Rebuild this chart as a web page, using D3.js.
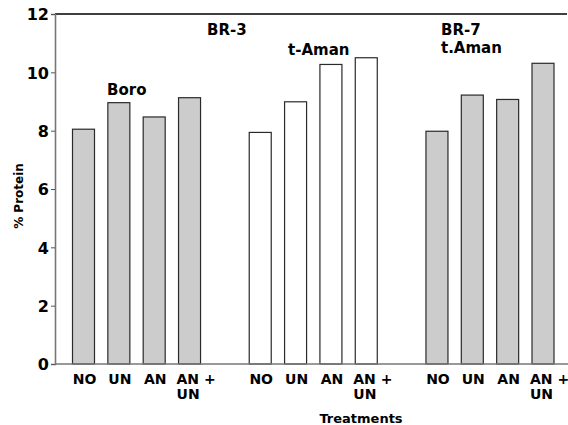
<!DOCTYPE html>
<html>
<head>
<meta charset="utf-8">
<script src="https://cdn.jsdelivr.net/npm/d3@7"></script>
<style>
  body { margin: 0; background: #fff; }
  text { font-family: "DejaVu Sans", sans-serif; font-weight: bold; fill: #000; }
</style>
</head>
<body>
<div id="chart"></div>
<script>
// data
var groups = ["BR-3 Boro", "BR-3 t-Aman", "BR-7 t.Aman"];
var treatments = ["NO", "UN", "AN", "AN+UN"];
var valuesBoro = [8.05, 8.96, 8.47, 9.13];
var valuesBR3Aman = [7.94, 8.99, 10.27, 10.5];
var valuesBR7Aman = [7.98, 9.22, 9.07, 10.31];
var yTicks = [0, 2, 4, 6, 8, 10, 12];

var allValues = [valuesBoro, valuesBR3Aman, valuesBR7Aman];
var fills = ["#cccccc", "#ffffff", "#cccccc"];

var width = 568, height = 425;
var margin = {top: 14, right: 1, bottom: 61, left: 55};

var svg = d3.select("#chart").append("svg")
  .attr("width", width).attr("height", height);

// slots: 4 bars per group with one empty slot between groups
var slots = [];
groups.forEach(function (g, gi) {
  treatments.forEach(function (t) { slots.push(g + "|" + t); });
  if (gi < groups.length - 1) slots.push("gap" + gi);
});

var x = d3.scalePoint().domain(slots).range([83.5, 543]);
var barW = 22;

var y = d3.scaleLinear().domain([0, 12]).range([height - margin.bottom, margin.top]);

// bars
var bars = [];
groups.forEach(function (g, gi) {
  treatments.forEach(function (t, ti) {
    bars.push({key: g + "|" + t, label: t, value: allValues[gi][ti], fill: fills[gi]});
  });
});

svg.append("g").selectAll("rect").data(bars).enter().append("rect")
  .attr("x", function (d) { return x(d.key) - barW / 2; })
  .attr("y", function (d) { return y(d.value); })
  .attr("width", barW)
  .attr("height", function (d) { return y(0) - y(d.value); })
  .attr("fill", function (d) { return d.fill; })
  .attr("stroke", "#2a2a2a")
  .attr("stroke-width", 1.2);

// frame lines: top black, left and bottom gray
svg.append("line").attr("x1", margin.left).attr("x2", width - 1)
  .attr("y1", y(12)).attr("y2", y(12)).attr("stroke", "#000").attr("stroke-width", 1.3);
svg.append("line").attr("x1", margin.left).attr("x2", width)
  .attr("y1", y(0)).attr("y2", y(0)).attr("stroke", "#777").attr("stroke-width", 1.6);

// y axis
var yAxis = svg.append("g").attr("transform", "translate(" + margin.left + ",0)")
  .call(d3.axisLeft(y).tickValues(yTicks).tickSize(4).tickPadding(2));
yAxis.select(".domain").attr("stroke", "#777").attr("stroke-width", 1.6);
yAxis.selectAll(".tick line").attr("stroke", "#555");
yAxis.selectAll(".tick text")
  .style("font-family", "DejaVu Sans").style("font-weight", "bold")
  .style("font-size", "16px").attr("fill", "#000").attr("dy", "0.36em");

// x labels
var xl = svg.append("g");
bars.forEach(function (d) {
  if (d.label === "AN+UN") {
    var t = xl.append("text").attr("text-anchor", "start")
      .attr("x", x(d.key) - barW / 2 - 2).attr("y", 384).style("font-size", "14px");
    t.append("tspan").text("AN +");
    t.append("tspan").attr("x", x(d.key) - barW / 2 - 2).attr("dy", 15).text("UN");
  } else {
    xl.append("text").attr("text-anchor", "middle")
      .attr("x", x(d.key) + 1).attr("y", 384).style("font-size", "14px").text(d.label);
  }
});

// axis titles
svg.append("text").attr("text-anchor", "middle")
  .attr("x", 361).attr("y", 423).style("font-size", "13px").text("Treatments");
svg.append("text").attr("text-anchor", "middle")
  .attr("transform", "translate(23,196) rotate(-90)")
  .style("font-size", "12px").text("% Protein");

// group annotations
var notes = [
  {text: "Boro", x: 107, y: 95},
  {text: "BR-3", x: 207, y: 35},
  {text: "t-Aman", x: 288, y: 55},
  {text: "BR-7", x: 441, y: 35},
  {text: "t.Aman", x: 441, y: 53}
];
svg.append("g").selectAll("text").data(notes).enter().append("text")
  .attr("x", function (d) { return d.x; })
  .attr("y", function (d) { return d.y; })
  .style("font-size", "15px")
  .text(function (d) { return d.text; });
</script>
</body>
</html>
